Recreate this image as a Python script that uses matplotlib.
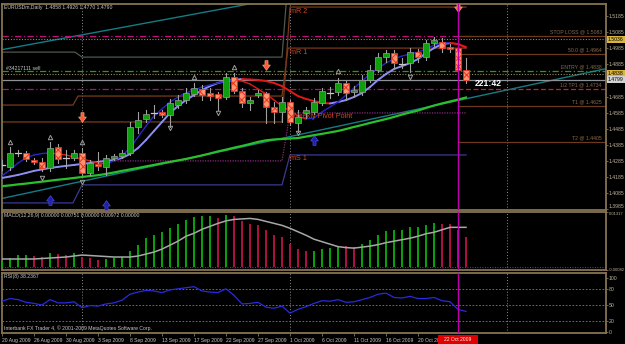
import matplotlib
matplotlib.use("Agg")
import matplotlib.pyplot as plt
from matplotlib.collections import LineCollection
from matplotlib.patches import Rectangle
from matplotlib.path import Path
from matplotlib.transforms import blended_transform_factory

W, H = 625, 344

# ---------------- data ----------------
chart_title = "EURUSDm,Daily  1.4858 1.4926 1.4770 1.4790"
order_label = "#34217111 sell"
macd_label = "MACD(12,26,9) 0.00000 0.00751 0.00000 0.00972 0.00000"
rsi_label = "RSI(8) 38.2367"
copyright_label = "Interbank FX Trader 4, \u00a9 2001-2009 MetaQuotes Software Corp."
timer_label = "221:42"

date_labels = ["20 Aug 2009", "26 Aug 2009", "30 Aug 2009", "3 Sep 2009", "8 Sep 2009",
               "13 Sep 2009", "17 Sep 2009", "22 Sep 2009", "27 Sep 2009", "1 Oct 2009",
               "6 Oct 2009", "11 Oct 2009", "16 Oct 2009", "20 Oct 2009"]
date_label_bars = [0, 4, 8, 12, 16, 20, 24, 28, 32, 36, 40, 44, 48, 52]
cursor_label = "22 Oct 2009"
cursor_bar = 57

opens = [1.4260, 1.4247, 1.4334, 1.4334, 1.4291, 1.4279, 1.4241, 1.4371, 1.4303, 1.4303,
         1.4334, 1.4210, 1.4266, 1.4247, 1.4303, 1.4316, 1.4334, 1.4496, 1.4545, 1.4583,
         1.4589, 1.4570, 1.4632, 1.4663, 1.4701, 1.4732, 1.4707, 1.4701, 1.4682, 1.4806,
         1.4719, 1.4645, 1.4694, 1.4707, 1.4620, 1.4589, 1.4651, 1.4521, 1.4583, 1.4589,
         1.4645, 1.4713, 1.4713, 1.4769, 1.4713, 1.4713, 1.4788, 1.4850, 1.4930, 1.4955,
         1.4893, 1.4893, 1.4962, 1.4930, 1.5017, 1.5024, 1.4993, 1.4986, 1.4850]
highs = [1.4291, 1.4372, 1.4353, 1.4347, 1.4303, 1.4303, 1.4403, 1.4390, 1.4353, 1.4353,
         1.4365, 1.4291, 1.4341, 1.4322, 1.4328, 1.4353, 1.4527, 1.4589, 1.4601, 1.4632,
         1.4601, 1.4670, 1.4694, 1.4738, 1.4769, 1.4757, 1.4738, 1.4713, 1.4831, 1.4831,
         1.4738, 1.4682, 1.4725, 1.4713, 1.4651, 1.4682, 1.4663, 1.4601, 1.4620, 1.4676,
         1.4738, 1.4744, 1.4800, 1.4781, 1.4750, 1.4819, 1.4881, 1.4955, 1.4974, 1.4974,
         1.4924, 1.4986, 1.4980, 1.5036, 1.5055, 1.5048, 1.5011, 1.4999, 1.4926]
lows = [1.4229, 1.4229, 1.4316, 1.4285, 1.4266, 1.4223, 1.4223, 1.4272, 1.4241, 1.4291,
        1.4198, 1.4198, 1.4229, 1.4198, 1.4291, 1.4303, 1.4322, 1.4458, 1.4527, 1.4552,
        1.4558, 1.4496, 1.4614, 1.4645, 1.4688, 1.4663, 1.4663, 1.4601, 1.4670, 1.4707,
        1.4620, 1.4601, 1.4682, 1.4521, 1.4521, 1.4527, 1.4508, 1.4465, 1.4552, 1.4577,
        1.4632, 1.4676, 1.4694, 1.4663, 1.4682, 1.4694, 1.4775, 1.4837, 1.4899, 1.4862,
        1.4862, 1.4837, 1.4899, 1.4912, 1.4999, 1.4962, 1.4962, 1.4837, 1.4770]
closes = [1.4257, 1.4334, 1.4331, 1.4297, 1.4279, 1.4241, 1.4365, 1.4297, 1.4300, 1.4334,
          1.4210, 1.4272, 1.4254, 1.4303, 1.4316, 1.4334, 1.4496, 1.4539, 1.4577, 1.4580,
          1.4570, 1.4645, 1.4663, 1.4707, 1.4738, 1.4694, 1.4688, 1.4676, 1.4806, 1.4719,
          1.4645, 1.4663, 1.4707, 1.4620, 1.4589, 1.4651, 1.4527, 1.4558, 1.4601, 1.4651,
          1.4719, 1.4710, 1.4769, 1.4707, 1.4725, 1.4788, 1.4850, 1.4930, 1.4955, 1.4893,
          1.4890, 1.4962, 1.4930, 1.5017, 1.5036, 1.4986, 1.4980, 1.4850, 1.4790]

fast_ma = [1.4192, 1.4229, 1.4272, 1.4303, 1.4322, 1.4331, 1.4334, 1.4328, 1.4322, 1.4309,
           1.4297, 1.4285, 1.4272, 1.4266, 1.4285, 1.4316, 1.4365, 1.4433, 1.4502, 1.4564,
           1.4608, 1.4651, 1.4682, 1.4707, 1.4725, 1.4744, 1.4757, 1.4769, 1.4781, 1.4788,
           1.4781, 1.4763, 1.4732, 1.4701, 1.4663, 1.4626, 1.4595, 1.4564, 1.4545, 1.4552,
           1.4589, 1.4620, 1.4651, 1.4694, 1.4738, 1.4781, 1.4825, 1.4862, 1.4893, 1.4918,
           1.4937, 1.4949, 1.4961, 1.4980, 1.5005, 1.5017, 1.5020, 1.5011, 1.4986]
slow_ma = [1.4179, 1.4188, 1.4198, 1.4210, 1.4223, 1.4232, 1.4241, 1.4248, 1.4254, 1.4260,
           1.4266, 1.4272, 1.4279, 1.4285, 1.4291, 1.4303, 1.4328, 1.4365, 1.4415, 1.4471,
           1.4527, 1.4583, 1.4626, 1.4663, 1.4694, 1.4725, 1.4750, 1.4769, 1.4781, 1.4788,
           1.4794, 1.4791, 1.4788, 1.4781, 1.4769, 1.4750, 1.4719, 1.4688, 1.4670, 1.4657,
           1.4645, 1.4642, 1.4651, 1.4663, 1.4682, 1.4707, 1.4744, 1.4788, 1.4825, 1.4856,
           1.4874, 1.4893, 1.4918, 1.4955, 1.4986, 1.5011, 1.5017, 1.5011, 1.4993]
long_ma = [1.4128, 1.4133, 1.4139, 1.4144, 1.4150, 1.4156, 1.4162, 1.4168, 1.4173, 1.4179,
           1.4185, 1.4191, 1.4196, 1.4204, 1.4213, 1.4223, 1.4232, 1.4241, 1.4251, 1.4260,
           1.4270, 1.4279, 1.4288, 1.4297, 1.4308, 1.4319, 1.4331, 1.4344, 1.4355, 1.4367,
           1.4378, 1.4390, 1.4403, 1.4413, 1.4418, 1.4421, 1.4424, 1.4427, 1.4436, 1.4445,
           1.4453, 1.4462, 1.4471, 1.4483, 1.4496, 1.4508, 1.4521, 1.4533, 1.4545, 1.4558,
           1.4573, 1.4586, 1.4598, 1.4614, 1.4629, 1.4642, 1.4654, 1.4666, 1.4679]

macd_hist = [0.00112, 0.00208, 0.00280, 0.00285, 0.00268, 0.00232, 0.00328, 0.00304, 0.00292, 0.00328,
             0.00232, 0.00208, 0.00160, 0.00172, 0.00208, 0.00232, 0.00376, 0.00520, 0.00688, 0.00760,
             0.00832, 0.00928, 0.01024, 0.01120, 0.01192, 0.01216, 0.01228, 0.01168, 0.01240, 0.01216,
             0.01096, 0.01024, 0.01000, 0.00880, 0.00760, 0.00712, 0.00544, 0.00424, 0.00376, 0.00383,
             0.00424, 0.00448, 0.00496, 0.00491, 0.00484, 0.00544, 0.00640, 0.00760, 0.00856, 0.00880,
             0.00887, 0.00952, 0.00959, 0.01000, 0.01048, 0.01043, 0.01024, 0.00880, 0.00712]
macd_signal = [0.00184, 0.00184, 0.00184, 0.00184, 0.00184, 0.00196, 0.00208, 0.00220, 0.00232, 0.00256,
               0.00280, 0.00268, 0.00256, 0.00244, 0.00232, 0.00232, 0.00232, 0.00256, 0.00304, 0.00352,
               0.00424, 0.00520, 0.00616, 0.00736, 0.00808, 0.00904, 0.00976, 0.01048, 0.01108, 0.01144,
               0.01156, 0.01168, 0.01144, 0.01096, 0.01048, 0.01000, 0.00928, 0.00844, 0.00760, 0.00664,
               0.00604, 0.00544, 0.00484, 0.00460, 0.00448, 0.00472, 0.00496, 0.00532, 0.00580, 0.00616,
               0.00652, 0.00688, 0.00736, 0.00796, 0.00832, 0.00892, 0.00952, 0.00952, 0.00952]
rsi_vals = [57, 62, 60, 55, 53, 50, 60, 54, 54, 56,
            45, 49, 48, 52, 54, 59, 70, 74, 77, 76,
            73, 78, 80, 82, 84, 76, 74, 73, 80, 68,
            52, 53, 55, 46, 44, 48, 35, 42, 47, 53,
            58, 57, 60, 55, 56, 60, 64, 70, 72, 64,
            63, 66, 62, 62, 64, 58, 56, 42, 38.2]

price_ticks = [1.5185, 1.5085, 1.4985, 1.4885, 1.4785, 1.4685, 1.4585, 1.4485,
               1.4385, 1.4285, 1.4185, 1.4085, 1.3985]
price_tick_labels = ["1.5185", "1.5085", "1.4985", "1.4885", "", "1.4685", "1.4585", "1.4485",
                     "1.4385", "1.4285", "1.4185", "1.4085", "1.3985"]
macd_ticks = [0.01317, -0.00082]
macd_tick_labels = ["0.01317", "-0.00082"]
rsi_ticks = [100, 80, 50, 20, 0]
rsi_levels = [80, 50, 20]

frac_up_bars = [1, 6, 10, 24, 29, 42]
frac_up_prices = [1.4403, 1.4434, 1.4403, 1.4806, 1.4868, 1.4843]
frac_dn_bars = [5, 10, 21, 27, 37, 51]
frac_dn_prices = [1.4179, 1.4154, 1.4489, 1.4583, 1.4458, 1.4806]
sell_arrow_bars = [10, 33, 57]
sell_arrow_prices = [1.4558, 1.4881, 1.5241]
buy_arrow_bars = [6, 13, 39]
buy_arrow_prices = [1.4042, 1.4011, 1.4415]

channel_upper = [(-0.25, 1.4974), (40.0, 1.5344)]
channel_lower = [(-0.25, 1.4049), (75.5, 1.4858)]

pivot_gray = [(-0.25, 1.4961), (9.125, 1.4961), (10.0, 1.4930), (35.0, 1.4930), (35.6, 1.5315)]
pivot_r1 = [(-0.25, 1.4632), (8.875, 1.4632), (9.5, 1.4688), (35.0, 1.4688), (35.75, 1.4986), (58.0, 1.4986)]
pivot_r2 = [(-0.25, 1.4527), (35.0, 1.4527), (36.0, 1.5241), (58.0, 1.5241)]
weekly_pivot = [(12.25, 1.4285), (35.0, 1.4285), (36.0, 1.4583), (58.0, 1.4583)]
pivot_s1 = [(-0.25, 1.4024), (8.875, 1.4024), (10.0, 1.4136), (35.0, 1.4136), (36.0, 1.4322), (58.0, 1.4322)]
pivot_texts = ["mR 2", "mR 1", "Weekly Pivot Point", "mS 1"]
pivot_text_prices = [1.5216, 1.4961, 1.4558, 1.4297]

level_magenta_top = 1.5061
level_tan_top = 1.5042
level_entry = 1.4843
level_tan_mid = 1.4824
level_bid = 1.4788
level_magenta_mid = 1.4734

trade_labels = ["STOP LOSS @ 1.5083", "50.0 @ 1.4964", "ENTRY @ 1.4838",
                "1/2 TP1 @ 1.4734", "T1 @ 1.4625", "T2 @ 1.4405"]
trade_prices = [1.5061, 1.4949, 1.4843, 1.4734, 1.4626, 1.4403]

box_labels = ["1.5036", "1.4838", "1.4799"]
box_prices = [1.5039, 1.4831, 1.4791]
timer_bar, timer_price = 60.75, 1.4769
separator_bars = [10, 36, 63.125]

# ---------------- styling ----------------
BG = "black"
FRAME = "#857451"
TXT = "#c8c8c8"
AXTXT = "#bcb49a"
FS = 3.7
plt.rcParams['font.family'] = ['Liberation Sans', 'DejaVu Sans']
plt.rcParams['hatch.linewidth'] = 0.7

fig = plt.figure(figsize=(W / 100, H / 100), dpi=100, facecolor=BG)


def px_rect(l, t, r, b):
    return [l / W, 1 - b / H, (r - l) / W, (b - t) / H]


ax = fig.add_axes(px_rect(2, 4, 606, 209.5))
axm = fig.add_axes(px_rect(2, 211.5, 606, 270))
axr = fig.add_axes(px_rect(2, 273, 606, 333))
XL = (0, 75.5)
for a in (ax, axm, axr):
    a.set_facecolor(BG)
    a.set_xlim(*XL)
    for s in a.spines.values():
        s.set_color(FRAME)
        s.set_linewidth(1.3)
    a.yaxis.tick_right()
    a.tick_params(axis='y', colors=FRAME, labelcolor=AXTXT, labelsize=FS, length=1.6, width=0.6, pad=0.6)
    a.tick_params(axis='x', bottom=False, labelbottom=False)
    for b in separator_bars:
        a.axvline(b, color="#8c8c8c", lw=0.7, ls=(0, (1, 2)), zorder=1)

ax.set_ylim(1.3983, 1.5260)
axm.set_ylim(-0.00083, 0.01336)
axr.set_ylim(-1.85, 109.3)

ax.set_yticks(price_ticks)
ax.set_yticklabels(price_tick_labels)
ax.get_yticklabels()[-1].set_va('bottom')
axm.set_yticks(macd_ticks)
axm.set_yticklabels(macd_tick_labels)
axm.tick_params(axis='y', labelsize=3.0)
axm.get_yticklabels()[0].set_va('top')
axr.set_yticks(rsi_ticks)
axr.set_yticklabels([str(v) for v in rsi_ticks])

# ---------- main panel ----------
def seg(a, pts, **kw):
    a.plot([p[0] for p in pts], [p[1] for p in pts], **kw)

seg(ax, channel_upper, color="#147c84", lw=1.0, zorder=2)
seg(ax, channel_lower, color="#147c84", lw=1.0, zorder=2)

ax.plot([XL[0], 58.9], [level_magenta_top] * 2, color="#c0107a", lw=0.9, ls=(0, (5, 2, 1, 2)), zorder=2)
ax.axhline(level_tan_top, color="#9a8a62", lw=0.8, ls=(0, (1, 1.5)), zorder=2)
ax.axhline(level_entry, color="#1ea01e", lw=0.9, ls=(0, (5, 2, 1, 2)), zorder=2)
ax.axhline(level_tan_mid, color="#9a8a62", lw=0.8, ls=(0, (1, 1.5)), zorder=2)
ax.axhline(level_bid, color="#8e9296", lw=0.9, zorder=2)
ax.plot([XL[0], cursor_bar], [level_magenta_mid] * 2, color="#b01070", lw=0.9, ls=(0, (5, 2, 1, 2)), zorder=2)

seg(ax, pivot_gray, color="#4c5a4c", lw=0.9, zorder=2)
seg(ax, pivot_r1, color="#7a3a1c", lw=0.9, zorder=2)
seg(ax, pivot_r2, color="#7a3a1c", lw=0.9, zorder=2)
seg(ax, weekly_pivot, color="#8a2a7e", lw=0.9, ls=(0, (1, 1)), zorder=2)
seg(ax, pivot_s1, color="#3a3a92", lw=0.9, zorder=2)
for t, p in zip(pivot_texts, pivot_text_prices):
    xb = 36.0 if t != "Weekly Pivot Point" else 36.3
    ax.text(xb, p, t, color="#d2461e", fontsize=5.2, va='center', ha='left', zorder=6)

for t, p in zip(trade_labels, trade_prices):
    if t.startswith("ENTRY"):
        pass
    elif t.startswith("1/2"):
        ax.plot([cursor_bar, XL[1]], [p, p], color="#d21e1e", lw=0.9, ls=(0, (4, 2)), zorder=2)
    else:
        ax.plot([cursor_bar, XL[1]], [p, p], color="#6e3a1e", lw=0.9, zorder=2)
    ax.text(75.0, p + 0.0008, t, color="#8c6a4e", fontsize=FS, ha='right', va='bottom', zorder=6)

ax.plot(range(len(long_ma)), long_ma, color="#2bc02b", lw=1.6, zorder=3)


def colored_ma(values, up_color, lw):
    segs, cols = [], []
    for i in range(len(values) - 1):
        segs.append([(i, values[i]), (i + 1, values[i + 1])])
        cols.append(up_color if values[i + 1] >= values[i] else "#e01818")
    ax.add_collection(LineCollection(segs, colors=cols, linewidths=lw, zorder=4, capstyle='round'))


colored_ma(slow_ma, "#8e8ef2", 1.4)
colored_ma(fast_ma, "#2626c4", 1.0)

for i, (o, h, l, c) in enumerate(zip(opens, highs, lows, closes)):
    ax.plot([i, i], [l, h], color="#a0a0a0", lw=0.8, zorder=5)
    bottom, height = min(o, c), abs(c - o)
    if height < 0.0004:
        ax.plot([i - 0.35, i + 0.35], [c, c], color="#c8c8c8", lw=0.9, zorder=6)
        continue
    if c > o:
        r = Rectangle((i - 0.32, bottom), 0.64, height, facecolor="#0e9e0e",
                      edgecolor="#9a9a9a", lw=0.5, zorder=6)
    else:
        r = Rectangle((i - 0.32, bottom), 0.64, height, facecolor="#ff9470",
                      edgecolor="#f0301e", hatch="xxxx", lw=0.5, zorder=6)
    ax.add_patch(r)

ax.plot(frac_up_bars, frac_up_prices, ls='none', marker='^', ms=3.2, mfc='none', mec="#9c9c9c", mew=0.7, zorder=7)
ax.plot(frac_dn_bars, frac_dn_prices, ls='none', marker='v', ms=3.2, mfc='none', mec="#9c9c9c", mew=0.7, zorder=7)

v = [(-0.32, 1), (0.32, 1), (0.32, 0.1), (0.8, 0.1), (0, -1), (-0.8, 0.1), (-0.32, 0.1), (-0.32, 1)]
codes = [Path.MOVETO] + [Path.LINETO] * 6 + [Path.CLOSEPOLY]
arrow_dn = Path(v, codes)
arrow_up = Path([(x, -y) for x, y in v], codes)
ax.plot(sell_arrow_bars, sell_arrow_prices, ls='none', marker=arrow_dn, ms=7, mfc="#ff5a38", mec="#ffb080", mew=0.4, zorder=8)
ax.plot(buy_arrow_bars, buy_arrow_prices, ls='none', marker=arrow_up, ms=7, mfc="#1e1eb4", mec="#5a5ae0", mew=0.4, zorder=8)

ax.text(0.004, 0.995, chart_title, transform=ax.transAxes, color=TXT, fontsize=FS, va='top', ha='left')
ax.text(0.5, 1.4862, order_label, color=TXT, fontsize=FS, va='center', ha='left')
ax.text(timer_bar, timer_price, timer_label, color="white", fontsize=6.2, fontweight='bold', ha='center', va='center', zorder=9)

box_colors = ["#d8b440", "#d8b440", "#d2d2d2"]
for t, p, bc in zip(box_labels, box_prices, box_colors):
    ax.text(1.0035, p, t, transform=ax.get_yaxis_transform(), color="black", fontsize=FS,
            va='center', ha='left', clip_on=False, zorder=10,
            bbox=dict(boxstyle='square,pad=0.15', fc=bc, ec='none'))

# ---------- MACD ----------
xs = list(range(len(macd_hist)))
hcols = ["#08a008"] + ["#08a008" if macd_hist[i] >= macd_hist[i - 1] else "#ac1040" for i in range(1, len(macd_hist))]
axm.bar(xs, macd_hist, width=0.36, color=hcols, zorder=3)
axm.plot(xs, macd_signal, color="#a8a8a8", lw=1.1, zorder=4)
axm.axhline(0, color="#707070", lw=0.6, ls=(0, (1, 2)), zorder=2)
axm.text(0.004, 0.98, macd_label, transform=axm.transAxes, color=TXT, fontsize=FS, va='top', ha='left')

# ---------- RSI ----------
for lv in rsi_levels:
    axr.axhline(lv, color="#7a7a7a", lw=0.6, ls=(0, (2, 2)), zorder=2)
axr.plot(range(len(rsi_vals)), rsi_vals, color="#2a2ae0", lw=0.9, zorder=4)
axr.text(0.004, 0.98, rsi_label, transform=axr.transAxes, color=TXT, fontsize=FS, va='top', ha='left')
axr.text(0.004, 0.03, copyright_label, transform=axr.transAxes, color=TXT, fontsize=FS, va='bottom', ha='left')

axr.tick_params(axis='x', bottom=True, labelbottom=True, colors=FRAME, labelcolor=TXT,
                labelsize=3.6, length=2.5, width=0.6, pad=0.8)
axr.set_xticks(date_label_bars)
axr.set_xticklabels(date_labels, ha='left')

tr = blended_transform_factory(axr.transData, fig.transFigure)
fig.add_artist(Rectangle((cursor_bar - 2.45, 0.0), 4.9, 9.5 / H, transform=tr,
                         facecolor="#e00000", edgecolor='none', zorder=20))
txt = fig.text(0.5, 4.8 / H, cursor_label, color="#f4f4f4", fontsize=3.6, ha='center', va='center', zorder=21)
txt.set_transform(tr)
txt.set_position((cursor_bar, 4.8 / H))

for a in (ax, axm, axr):
    a.axvline(cursor_bar, color="#c000b0", lw=1.0, zorder=9)

fig.savefig("out.png", dpi=100, facecolor=BG)
